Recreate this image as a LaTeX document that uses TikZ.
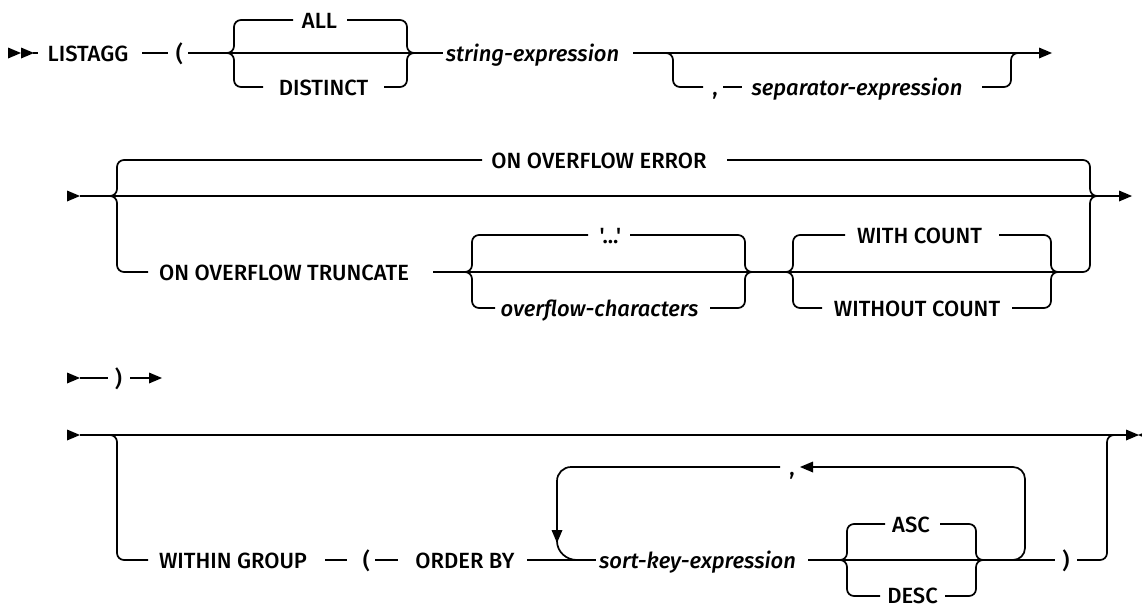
\documentclass[tikz,border=0pt]{standalone}
\usepackage{fontspec}
\newfontfamily\rrfont{Fira Sans Medium}[ItalicFont={Fira Sans Medium Italic}]
\newcommand\triR[2]{\fill (#1,#2-5.5) -- (#1+13,#2) -- (#1,#2+5.5) -- cycle;}
\newcommand\triL[2]{\fill (#1,#2-5.5) -- (#1-13,#2) -- (#1,#2+5.5) -- cycle;}
\newcommand\triD[2]{\fill (#1-5.5,#2) -- (#1,#2+13) -- (#1+5.5,#2) -- cycle;}
\begin{document}
\begin{tikzpicture}[x=1pt,y=-1pt,
  rr/.style={line width=1.7pt},
  rc/.style={rr, rounded corners=7pt},
  kw/.style={font=\rrfont\fontsize{22}{26}\selectfont, inner sep=0pt, anchor=base},
  var/.style={font=\rrfont\fontsize{22}{26}\selectfont\itshape, inner sep=0pt, anchor=base}]
\useasboundingbox (0,0) rectangle (1142,608);

% ---------- Row 1 ----------
\triR{8}{53}\triR{21}{53}
\draw[rr] (33,53) -- (38,53);
\node[kw] (listagg) at (88,61) {LISTAGG};
\draw[rr] (142,53) -- (168,53);
\node[kw] (lp1) at (179.5,61) {(};
\draw[rr] (188,53) -- (443,53);
\node[kw] (all) at (319.5,28) {ALL};
\node[kw] (distinct) at (323.5,95) {DISTINCT};
\draw[rc] (293,20) -- (234,20) -- (234,53) -- (228,53);
\draw[rc] (228,53) -- (234,53) -- (234,87) -- (263,87);
\draw[rc] (347,20) -- (407,20) -- (407,53) -- (413,53);
\draw[rc] (384,87) -- (407,87) -- (407,53) -- (413,53);
\node[var] (strexp) at (532.5,61) {string-expression};
\draw[rr] (633,53) -- (1040,53);
\triR{1039}{53}
\draw[rc] (660,53) -- (673,53) -- (673,87) -- (703,87);
\node[kw] (comma1) at (715,95) {,};
\draw[rr] (723,87) -- (742,87);
\node[var] (sepexp) at (857,95) {separator-expression};
\draw[rc] (982,87) -- (1011,87) -- (1011,53) -- (1025,53);

% ---------- Row 2 ----------
\triR{67}{196}
\draw[rr] (80,196) -- (1120,196);
\triR{1119}{196}
\node[kw] (ofe) at (599,168) {ON OVERFLOW ERROR};
\node[kw] (oft) at (284,280) {ON OVERFLOW TRUNCATE};
\draw[rc] (482,160) -- (117,160) -- (117,196) -- (111,196);
\draw[rc] (111,196) -- (117,196) -- (117,272) -- (148,272);
\draw[rc] (727,160) -- (1090,160) -- (1090,196) -- (1097,196);
\draw[rc] (1057,272) -- (1090,272) -- (1090,196) -- (1097,196);
\draw[rr] (433,272) -- (1057,272);
% choice '...' / overflow-characters
\node[kw] (dots) at (610.5,243) {'...'};
\node[var] (ofc) at (599.5,316) {overflow-characters};
\draw[rc] (588,235) -- (472,235) -- (472,272) -- (466,272);
\draw[rc] (466,272) -- (472,272) -- (472,308) -- (495,308);
\draw[rc] (630,235) -- (745,235) -- (745,272) -- (751,272);
\draw[rc] (710,308) -- (745,308) -- (745,272) -- (751,272);
% choice WITH COUNT / WITHOUT COUNT
\node[kw] (wc) at (919.5,243) {WITH COUNT};
\node[kw] (woc) at (917,316) {WITHOUT COUNT};
\draw[rc] (845,235) -- (793,235) -- (793,272) -- (787,272);
\draw[rc] (787,272) -- (793,272) -- (793,308) -- (822,308);
\draw[rc] (999,235) -- (1051,235) -- (1051,272) -- (1057,272);
\draw[rc] (1012,308) -- (1051,308) -- (1051,272) -- (1057,272);

% ---------- Row 3 ----------
\triR{67}{378}
\draw[rr] (80,378) -- (108,378);
\node[kw] (rp1) at (118.5,386) {)};
\draw[rr] (130,378) -- (150,378);
\triR{149}{378}

% ---------- Row 4 ----------
\triR{67}{435}
\draw[rr] (80,435) -- (1127,435);
\triR{1126}{435}
\triL{1151}{435}
\draw[rc] (100,435) -- (117,435) -- (117,560) -- (148,560);
\node[kw] (wg) at (233,568) {WITHIN GROUP};
\draw[rr] (325,560) -- (347,560);
\node[kw] (lp2) at (366.5,568) {(};
\draw[rr] (375,560) -- (398,560);
\node[kw] (ob) at (465,568) {ORDER BY};
\draw[rr] (527,560) -- (596,560);
\node[var] (ske) at (697.5,568) {sort-key-expression};
\draw[rr] (808,560) -- (1055,560);
\node[kw] (asc) at (911,532) {ASC};
\node[kw] (desc) at (912.5,603) {DESC};
\draw[rc] (885,524) -- (847,524) -- (847,560) -- (840,560);
\draw[rc] (840,560) -- (847,560) -- (847,596) -- (880,596);
\draw[rc] (940,524) -- (976,524) -- (976,560) -- (982,560);
\draw[rc] (945,596) -- (976,596) -- (976,560) -- (982,560);
\node[kw] (rp2) at (1066,568) {)};
\draw[rc] (1077,560) -- (1107,560) -- (1107,435) -- (1120,435);
% repeat loop
\draw[rr, rounded corners=12pt] (1000,560) -- (1025,560) -- (1025,467) -- (812,467);
\triL{813}{467}
\node[kw] (comma2) at (792,475) {,};
\draw[rr, rounded corners=14pt] (780,467) -- (557,467) -- (557,531);
\triD{557}{530}
\draw[rr] (557,541) to[out=-90,in=180] (577,560);
\end{tikzpicture}
\end{document}
